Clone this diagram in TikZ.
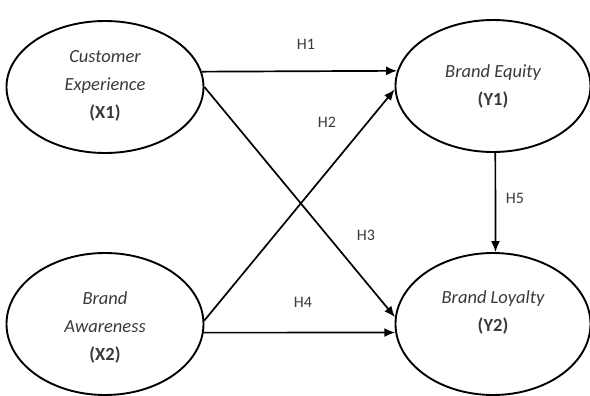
\documentclass[tikz,border=0pt]{standalone}
\usepackage{fontspec}
\setmainfont{Carlito}
\usetikzlibrary{arrows.meta,shapes.geometric}
\definecolor{txtgray}{HTML}{3A3A3A}
\tikzset{
  ell/.style={draw=black, line width=1.9pt, ellipse, inner sep=0pt},
  ltxt/.style={align=center, text=txtgray, font=\fontsize{18.5}{28}\selectfont, inner sep=0pt},
  hlab/.style={text=txtgray, font=\fontsize{16}{18}\selectfont, inner sep=0pt},
  arr/.style={draw=black, line width=1.7pt, -{Latex[length=11pt,width=9pt]}}
}
\begin{document}
\begin{tikzpicture}[x=1pt,y=-1pt]
\useasboundingbox[fill=white] (0,0) rectangle (590,396);
% ellipses
\node[ell, minimum width=197pt, minimum height=132pt] (X1) at (105,87) {};
\node[ell, minimum width=195pt, minimum height=132pt] (Y1) at (493,86) {};
\node[ell, minimum width=197pt, minimum height=142pt] (X2) at (105,324) {};
\node[ell, minimum width=195pt, minimum height=142pt] (Y2) at (493,324) {};
% texts
\node[ltxt] (X1t) at (105,86) {\itshape Customer\\ \itshape Experience\\ \bfseries (X1)};
\node[ltxt] (Y1t) at (493,86) {\itshape Brand Equity\\ \bfseries (Y1)};
\node[ltxt] (X2t) at (105,327) {\itshape Brand\\ \itshape Awareness\\ \bfseries (X2)};
\node[ltxt] (Y2t) at (493,312) {\itshape Brand Loyalty\\ \bfseries (Y2)};
% arrows
\draw[arr] (X1.9) -- (Y1.171.5);
\draw[arr] (X1.0) -- (Y2.176.5);
\draw[arr] (X2.2) -- (Y1.182);
\draw[arr] (X2.-5) -- (Y2.185);
\draw[arr] (Y1.-88) -- (Y2.88);
% labels
\node[hlab] (H1) at (306,44) {H1};
\node[hlab] (H2) at (327,122) {H2};
\node[hlab] (H3) at (366,235) {H3};
\node[hlab] (H4) at (303,302) {H4};
\node[hlab] (H5) at (515,198) {H5};
\end{tikzpicture}
\end{document}
